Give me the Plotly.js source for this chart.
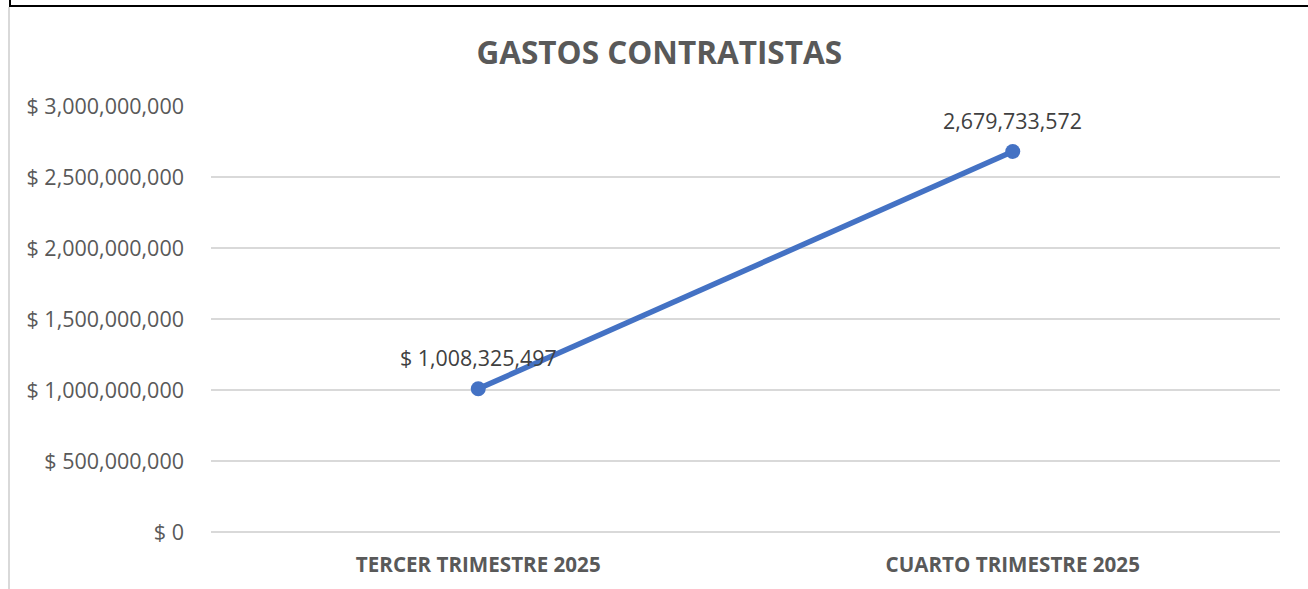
<!DOCTYPE html>
<html>
<head>
<meta charset="utf-8">
<script src="https://cdn.plot.ly/plotly-3.0.1.min.js"></script>
<style>
  html, body { margin: 0; padding: 0; background: #ffffff; }
  #wrap { position: relative; width: 1308px; height: 589px; overflow: hidden; }
  #chart { position: absolute; left: 0; top: 0; width: 1308px; height: 589px; }
  .topline { position: absolute; left: 9px; top: 5px; width: 1299px; height: 2px; background: #000; z-index: 5; }
  .topleft { position: absolute; left: 9px; top: 0; width: 2px; height: 7px; background: #000; z-index: 5; }
  .leftborder { position: absolute; left: 8px; top: 7px; width: 2px; height: 582px; background: #d9d9d9; z-index: 5; }
</style>
</head>
<body>
<div id="wrap">
  <div id="chart"></div>
  <div class="topline"></div>
  <div class="topleft"></div>
  <div class="leftborder"></div>
</div>
<script>
const categories = ["TERCER TRIMESTRE 2025", "CUARTO TRIMESTRE 2025"];
const gastos = [1008325497, 2679733572];
const dataLabels = ["$ 1,008,325,497", "2,679,733,572"];
const tickValues = [0, 500000000, 1000000000, 1500000000, 2000000000, 2500000000, 3000000000];
const tickLabels = ["$ 0", "$ 500,000,000", "$ 1,000,000,000", "$ 1,500,000,000", "$ 2,000,000,000", "$ 2,500,000,000", "$ 3,000,000,000"];

const FONT = "Open Sans, Liberation Sans, sans-serif";

const trace = {
  type: "scatter",
  mode: "lines+markers",
  x: categories,
  y: gastos,
  line: { color: "#4472C4", width: 5.5 },
  marker: { color: "#4472C4", size: 15 },
  hoverinfo: "skip",
  cliponaxis: false
};

const annotations = categories.map((c, i) => ({
  x: c, y: gastos[i], xref: "x", yref: "y",
  text: dataLabels[i], showarrow: false,
  yshift: 31, yanchor: "middle", xanchor: "center",
  font: { family: FONT, size: 21.4, color: "#404040" }
}));

const layout = {
  width: 1308, height: 589,
  paper_bgcolor: "#ffffff", plot_bgcolor: "#ffffff",
  margin: { l: 211, r: 28, t: 106, b: 57 },
  showlegend: false,
  title: {
    text: "<b>GASTOS CONTRATISTAS</b>",
    font: { family: FONT, size: 31.5, color: "#595959" },
    xref: "container", x: 0.504, xanchor: "center",
    yref: "container", y: 1 - 53 / 589, yanchor: "middle"
  },
  xaxis: {
    type: "category",
    range: [-0.5, 1.5],
    showgrid: false, zeroline: false, showline: false,
    ticks: "", ticklabelstandoff: 18,
    tickfont: { family: FONT, size: 20.6, color: "#595959", weight: "bold" },
    fixedrange: true
  },
  yaxis: {
    range: [0, 3000000000],
    tickmode: "array",
    tickvals: tickValues,
    ticktext: tickLabels,
    showgrid: true, gridcolor: "#d9d9d9", gridwidth: 1.5,
    zeroline: true, zerolinecolor: "#d9d9d9", zerolinewidth: 1.5,
    showline: false, ticks: "", ticklabelstandoff: 26,
    tickfont: { family: FONT, size: 21.5, color: "#595959" },
    fixedrange: true
  },
  annotations: annotations
};

Plotly.newPlot("chart", [trace], layout, { displayModeBar: false, staticPlot: true });
</script>
</body>
</html>
